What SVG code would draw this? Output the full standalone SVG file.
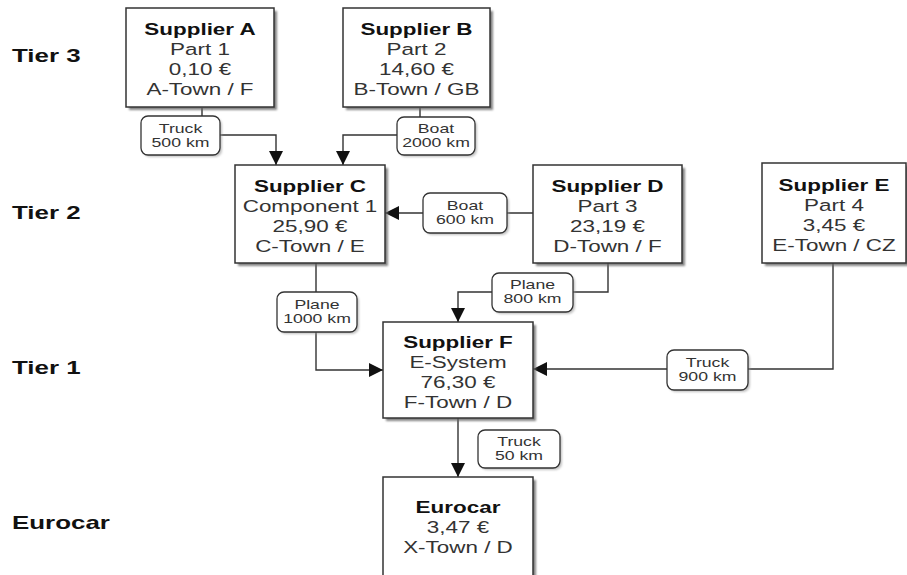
<svg xmlns="http://www.w3.org/2000/svg" width="907" height="575" viewBox="0 0 907 575">
<style>
.box{fill:#fff;stroke:#333;stroke-width:1.5}
.shadow{fill:#666;opacity:.8}
.lbl{fill:#fff;stroke:#333;stroke-width:1.3}
.lshadow{fill:#999;opacity:.6}
.conn{fill:none;stroke:#333;stroke-width:1.4}
.t{font-family:"Liberation Sans",Arial,sans-serif;font-size:17px;fill:#333;text-anchor:middle}
.h{font-weight:bold;fill:#111}
.lt{font-family:"Liberation Sans",Arial,sans-serif;font-size:13px;fill:#333;text-anchor:middle}
.tier{font-family:"Liberation Sans",Arial,sans-serif;font-size:18.5px;font-weight:bold;fill:#111}
</style>
<defs>
<filter id="blur" x="-10%" y="-10%" width="120%" height="120%"><feGaussianBlur stdDeviation="1.2"/></filter>
<marker id="arr" viewBox="0 0 14 14" refX="14" refY="7" markerWidth="14" markerHeight="14" markerUnits="userSpaceOnUse" orient="auto"><path d="M0,0 L14,7 L0,14 z" fill="#111"/></marker>
</defs>
<rect width="907" height="575" fill="#fff"/>

<g id="tiers">
<text class="tier" transform="translate(12,62) scale(1.4,1)">Tier 3</text>
<text class="tier" transform="translate(12,219) scale(1.4,1)">Tier 2</text>
<text class="tier" transform="translate(12,374) scale(1.4,1)">Tier 1</text>
<text class="tier" transform="translate(12,529) scale(1.4,1)">Eurocar</text>
</g>

<g id="connectors">
<path class="conn" d="M202,108 V135 H276 V165" marker-end="url(#arr)"/>
<path class="conn" d="M420,108 V135 H343 V165" marker-end="url(#arr)"/>
<path class="conn" d="M533,213 H385" marker-end="url(#arr)"/>
<path class="conn" d="M608,263 V292 H458 V322" marker-end="url(#arr)"/>
<path class="conn" d="M316,263 V370 H383" marker-end="url(#arr)"/>
<path class="conn" d="M833,263 V369 H533" marker-end="url(#arr)"/>
<path class="conn" d="M458,418 V477" marker-end="url(#arr)"/>
</g>

<g id="label-truck-500">
<rect class="lshadow" x="143" y="118" width="79" height="39" rx="7" filter="url(#blur)"/>
<rect class="lbl" x="141" y="116" width="79" height="39" rx="7"/>
<g transform="translate(180.5,0) scale(1.36,1)"><text class="lt" x="0" y="133">Truck</text><text class="lt" x="0" y="147">500 km</text></g>
</g>
<g id="label-boat-2000">
<rect class="lshadow" x="399" y="119" width="78" height="38" rx="7" filter="url(#blur)"/>
<rect class="lbl" x="397" y="117" width="78" height="38" rx="7"/>
<g transform="translate(436,0) scale(1.36,1)"><text class="lt" x="0" y="133">Boat</text><text class="lt" x="0" y="147">2000 km</text></g>
</g>
<g id="label-boat-600">
<rect class="lshadow" x="425" y="195" width="84" height="40" rx="7" filter="url(#blur)"/>
<rect class="lbl" x="423" y="193" width="84" height="40" rx="7"/>
<g transform="translate(465,0) scale(1.36,1)"><text class="lt" x="0" y="210">Boat</text><text class="lt" x="0" y="224">600 km</text></g>
</g>
<g id="label-plane-800">
<rect class="lshadow" x="494" y="275" width="81" height="39" rx="7" filter="url(#blur)"/>
<rect class="lbl" x="492" y="273" width="81" height="39" rx="7"/>
<g transform="translate(532.5,0) scale(1.36,1)"><text class="lt" x="0" y="289.5">Plane</text><text class="lt" x="0" y="303.5">800 km</text></g>
</g>
<g id="label-plane-1000">
<rect class="lshadow" x="279" y="294" width="80" height="40" rx="7" filter="url(#blur)"/>
<rect class="lbl" x="277" y="292" width="80" height="40" rx="7"/>
<g transform="translate(317,0) scale(1.36,1)"><text class="lt" x="0" y="309">Plane</text><text class="lt" x="0" y="323">1000 km</text></g>
</g>
<g id="label-truck-900">
<rect class="lshadow" x="669" y="352" width="81" height="40" rx="7" filter="url(#blur)"/>
<rect class="lbl" x="667" y="350" width="81" height="40" rx="7"/>
<g transform="translate(707.5,0) scale(1.36,1)"><text class="lt" x="0" y="367">Truck</text><text class="lt" x="0" y="381">900 km</text></g>
</g>
<g id="label-truck-50">
<rect class="lshadow" x="480" y="432" width="82" height="38" rx="7" filter="url(#blur)"/>
<rect class="lbl" x="478" y="430" width="82" height="38" rx="7"/>
<g transform="translate(519,0) scale(1.36,1)"><text class="lt" x="0" y="446">Truck</text><text class="lt" x="0" y="460">50 km</text></g>
</g>

<g id="supplier-a">
<rect class="shadow" x="129" y="11" width="148" height="99" filter="url(#blur)"/>
<rect class="box" x="126" y="8" width="148" height="99"/>
<g transform="translate(200,0) scale(1.32,1)">
<text class="t h" x="0" y="35">Supplier A</text><text class="t" x="0" y="55">Part 1</text><text class="t" x="0" y="75">0,10 €</text><text class="t" x="0" y="95">A-Town / F</text>
</g>
</g>
<g id="supplier-b">
<rect class="shadow" x="346" y="11" width="147" height="99" filter="url(#blur)"/>
<rect class="box" x="343" y="8" width="147" height="99"/>
<g transform="translate(416.5,0) scale(1.32,1)">
<text class="t h" x="0" y="35">Supplier B</text><text class="t" x="0" y="55">Part 2</text><text class="t" x="0" y="75">14,60 €</text><text class="t" x="0" y="95">B-Town / GB</text>
</g>
</g>
<g id="supplier-c">
<rect class="shadow" x="238" y="168" width="150" height="98" filter="url(#blur)"/>
<rect class="box" x="235" y="165" width="150" height="98"/>
<g transform="translate(310,0) scale(1.32,1)">
<text class="t h" x="0" y="192">Supplier C</text><text class="t" x="0" y="212">Component 1</text><text class="t" x="0" y="232">25,90 €</text><text class="t" x="0" y="252">C-Town / E</text>
</g>
</g>
<g id="supplier-d">
<rect class="shadow" x="536" y="168" width="149" height="98" filter="url(#blur)"/>
<rect class="box" x="533" y="165" width="149" height="98"/>
<g transform="translate(607.5,0) scale(1.32,1)">
<text class="t h" x="0" y="192">Supplier D</text><text class="t" x="0" y="212">Part 3</text><text class="t" x="0" y="232">23,19 €</text><text class="t" x="0" y="252">D-Town / F</text>
</g>
</g>
<g id="supplier-e">
<rect class="shadow" x="765" y="166" width="144" height="100" filter="url(#blur)"/>
<rect class="box" x="762" y="163" width="144" height="100"/>
<g transform="translate(834,0) scale(1.32,1)">
<text class="t h" x="0" y="191">Supplier E</text><text class="t" x="0" y="211">Part 4</text><text class="t" x="0" y="231">3,45 €</text><text class="t" x="0" y="251">E-Town / CZ</text>
</g>
</g>
<g id="supplier-f">
<rect class="shadow" x="386" y="325" width="150" height="96" filter="url(#blur)"/>
<rect class="box" x="383" y="322" width="150" height="96"/>
<g transform="translate(458,0) scale(1.32,1)">
<text class="t h" x="0" y="348">Supplier F</text><text class="t" x="0" y="368">E-System</text><text class="t" x="0" y="388">76,30 €</text><text class="t" x="0" y="408">F-Town / D</text>
</g>
</g>
<g id="eurocar">
<rect class="shadow" x="386" y="480" width="150" height="100" filter="url(#blur)"/>
<rect class="box" x="383" y="477" width="150" height="100"/>
<g transform="translate(458,0) scale(1.32,1)">
<text class="t h" x="0" y="513">Eurocar</text><text class="t" x="0" y="533">3,47 €</text><text class="t" x="0" y="553">X-Town / D</text>
</g>
</g>
</svg>
